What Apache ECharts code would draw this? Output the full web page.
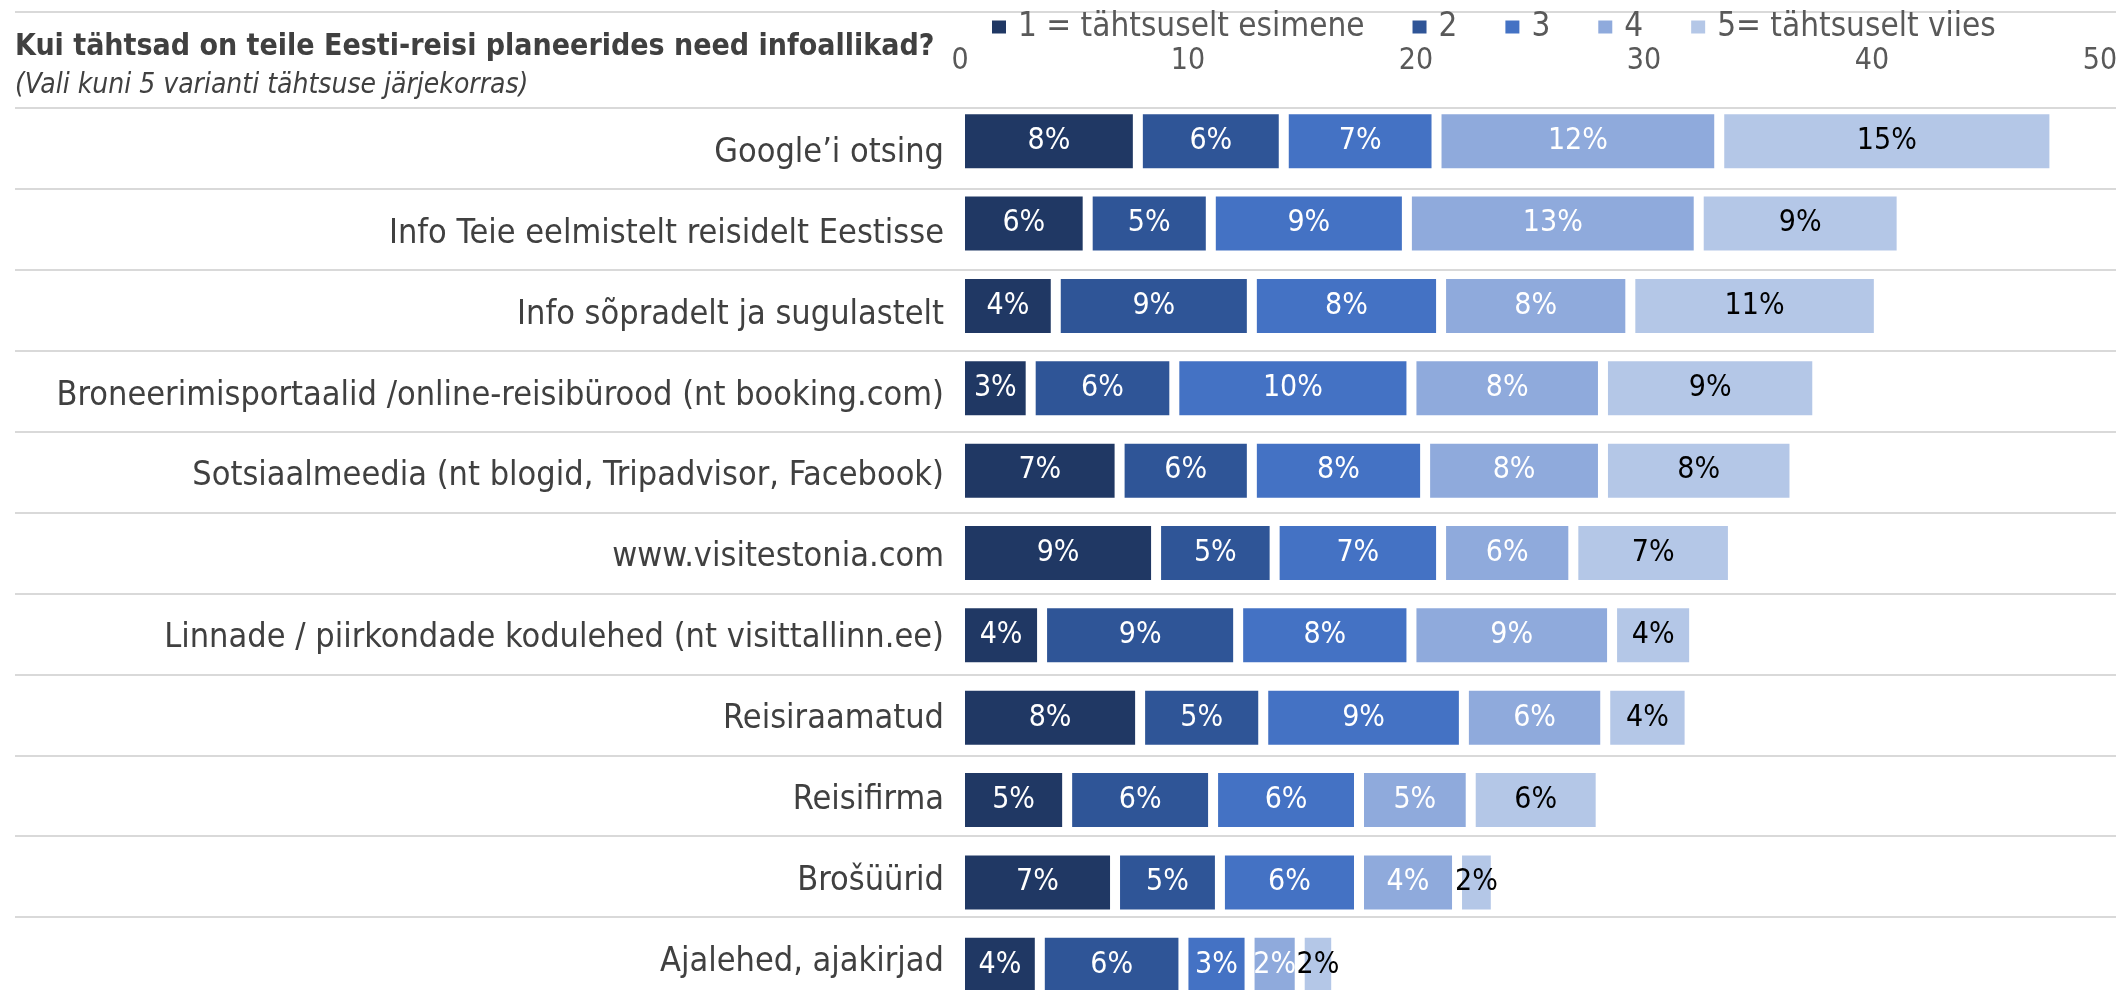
<!DOCTYPE html>
<html>
<head>
<meta charset="utf-8">
<title>Eesti-reisi infoallikad</title>
<script src="https://cdn.jsdelivr.net/npm/echarts@6/dist/echarts.min.js"></script>
<style>
  html, body { margin: 0; padding: 0; background: #fff; }
  #chart { width: 2121px; height: 990px; }
</style>
</head>
<body>
<div id="chart"></div>
<script>
// andmed (pikkused %-punktides, silt = ümardatud väärtus)
var categories = [
  'Google’i otsing',
  'Info Teie eelmistelt reisidelt Eestisse',
  'Info sõpradelt ja sugulastelt',
  'Broneerimisportaalid /online-reisibürood (nt booking.com)',
  'Sotsiaalmeedia (nt blogid, Tripadvisor, Facebook)',
  'www.visitestonia.com',
  'Linnade / piirkondade kodulehed (nt visittallinn.ee)',
  'Reisiraamatud',
  'Reisifirma',
  'Brošüürid',
  'Ajalehed, ajakirjad'
];
var seriesNames = ['1 = tähtsuselt esimene', '2', '3', '4', '5= tähtsuselt viies'];
var rank1 = [7.8, 5.6, 4.2, 3.1, 7.0, 8.6, 3.6, 7.9, 4.7, 6.8, 3.5];
var rank2 = [6.4, 5.4, 8.6, 6.3, 5.8, 5.2, 8.6, 5.4, 6.4, 4.6, 6.3];
var rank3 = [6.7, 8.6, 8.3, 10.4, 7.6, 7.3, 7.6, 8.8, 6.4, 6.1, 2.9];
var rank4 = [12.4, 12.8, 8.3, 8.4, 7.8, 5.8, 8.8, 6.2, 4.9, 4.3, 2.2];
var rank5 = [14.7, 8.9, 10.9, 9.4, 8.4, 7.0, 3.6, 3.7, 5.7, 1.7, 1.6];
var axisTicks = [0, 10, 20, 30, 40, 50];

var colors = ['#203864', '#2F5597', '#4472C4', '#8FAADC', '#B4C7E7'];
var labelColors = ['#fff', '#fff', '#fff', '#fff', '#000'];
var FONT = "'Liberation Sans Narrow', 'DejaVu Sans Condensed', 'Liberation Sans', sans-serif";

var myChart = echarts.init(document.getElementById('chart'));

var allRanks = [rank1, rank2, rank3, rank4, rank5];
var series = allRanks.map(function (vals, i) {
  return {
    name: seriesNames[i],
    type: 'bar',
    stack: 'kokku',
    xAxisIndex: 0,
    yAxisIndex: 0,
    barWidth: 64,
    data: vals,
    z: 3,
    itemStyle: {
      color: colors[i],
      borderColor: '#fff',
      borderWidth: 5
    },
    label: {
      show: true,
      position: 'inside',
      color: labelColors[i],
      fontFamily: FONT,
      fontSize: 30,
      formatter: function (p) { return Math.round(p.value) + '%'; }
    }
  };
});

var option = {
  animation: false,
  backgroundColor: '#fff',
  title: {
    text: 'Kui tähtsad on teile Eesti-reisi planeerides need infoallikad?',
    subtext: '(Vali kuni 5 varianti tähtsuse järjekorras)',
    left: 10,
    top: 27,
    itemGap: 10,
    textStyle: { fontFamily: FONT, fontSize: 30, fontWeight: 'bold', color: '#404040' },
    subtextStyle: { fontFamily: FONT, fontSize: 28, fontStyle: 'italic', color: '#404040' }
  },
  legend: {
    left: 985,
    top: 3,
    itemWidth: 16,
    itemHeight: 15,
    itemGap: 46,
    icon: 'rect',
    data: seriesNames,
    textStyle: { fontFamily: FONT, fontSize: 33, color: '#595959', lineHeight: 38, padding: [0, 0, 0, 6] }
  },
  grid: [
    { left: 960, right: 21, top: 100, height: 906, outerBoundsMode: 'none' },
    { left: 15, right: 5, top: 108, height: 890, outerBoundsMode: 'none' }
  ],
  xAxis: [
    {
      type: 'value',
      gridIndex: 0,
      position: 'top',
      min: axisTicks[0],
      max: axisTicks[axisTicks.length - 1],
      interval: axisTicks[1] - axisTicks[0],
      axisLine: { show: false },
      axisTick: { show: false },
      splitLine: { show: false },
      axisLabel: { fontFamily: FONT, fontSize: 30, color: '#595959', margin: 24 }
    },
    { type: 'value', gridIndex: 1, show: false, min: 0, max: 1 }
  ],
  yAxis: [
    {
      type: 'category',
      gridIndex: 0,
      inverse: true,
      data: categories,
      axisLine: { show: false },
      axisTick: { show: false },
      axisLabel: { show: false },
      splitLine: { show: false }
    },
    {
      type: 'category',
      gridIndex: 1,
      inverse: true,
      data: categories,
      axisLine: { show: false },
      axisTick: { show: false },
      axisLabel: {
        inside: true,
        margin: 929,
        align: 'right',
        formatter: function (v) { return '{c|' + v + '}'; },
        rich: {
          c: {
            fontFamily: FONT,
            fontSize: 34,
            color: '#404040',
            padding: [9, 0, 0, 0]
          }
        }
      },
      splitLine: { show: true, lineStyle: { color: '#d9d9d9', width: 2 } }
    }
  ],
  graphic: [
    {
      type: 'line',
      shape: { x1: 15, y1: 12, x2: 2116, y2: 12 },
      style: { stroke: '#d9d9d9', lineWidth: 2 },
      z: 0
    }
  ],
  series: series
};

myChart.setOption(option);
</script>
</body>
</html>
